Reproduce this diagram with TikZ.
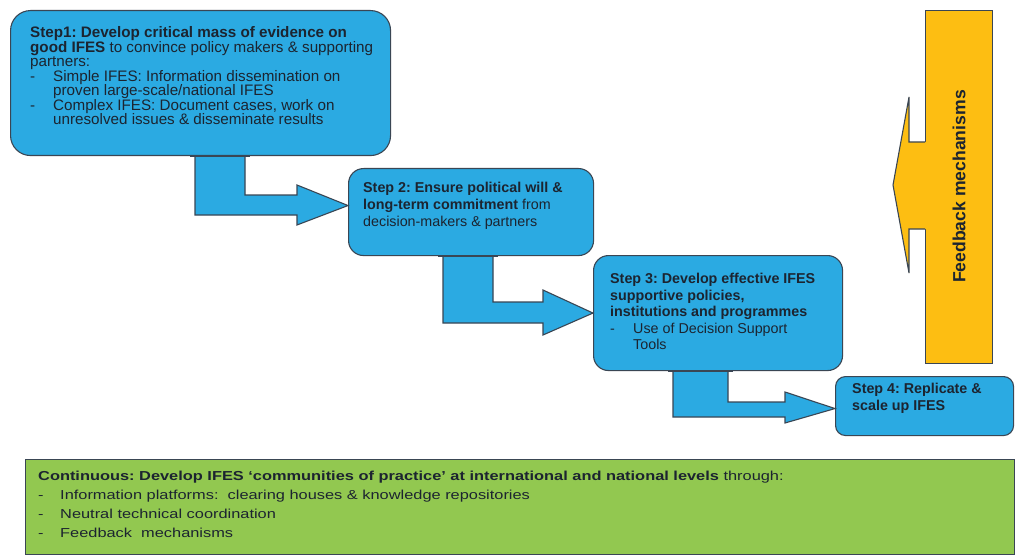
\documentclass[tikz,border=0pt]{standalone}
\usepackage{fontspec}
\setmainfont{Liberation Sans}
\newfontfamily\greenfont[FakeStretch=1.26]{Liberation Sans}
\usetikzlibrary{calc}
\definecolor{stepblue}{HTML}{2BAAE2}
\definecolor{fborange}{HTML}{FDBE12}
\definecolor{contgreen}{HTML}{92C850}
\definecolor{edge}{HTML}{3A4654}
\definecolor{ink}{HTML}{1C2430}
\frenchspacing
\begin{document}
\begin{tikzpicture}[x=1pt,y=-1pt,
  stepbox/.style={draw=edge,line width=1.1pt,fill=stepblue,anchor=north west,inner sep=0pt},
  bendarrow/.style={draw=edge,line width=1.1pt,fill=stepblue,line join=miter},
  steptext/.style={anchor=north west,inner sep=0pt,align=left,text=ink},
  fbbox/.style={draw=edge,line width=1.1pt,fill=fborange,anchor=north west,inner sep=0pt},
  contbox/.style={draw=edge,line width=1.1pt,fill=contgreen,anchor=north west,inner sep=0pt}]
\useasboundingbox[fill=white] (0,0) rectangle (1016,556);

% step boxes
\node[stepbox,rounded corners=20pt,minimum width=380pt,minimum height=145pt] (s1) at (10,10) {};
\node[stepbox,rounded corners=15pt,minimum width=245pt,minimum height=87pt] (s2) at (348,168) {};
\node[stepbox,rounded corners=15pt,minimum width=249pt,minimum height=115pt] (s3) at (593,255) {};
\node[stepbox,rounded corners=10pt,minimum width=178pt,minimum height=59pt] (s4) at (835,376) {};

% bent arrows between steps
\draw[bendarrow] ([xshift=185pt]s1.south west) -- (195,215) -- (297,215) -- (297,225)
  -- ([yshift=6.5pt]s2.west) -- (297,185) -- (297,195) -- (245,195)
  -- ([xshift=235pt]s1.south west) -- cycle;
\draw[bendarrow] ([xshift=95pt]s2.south west) -- (443,323) -- (543,323) -- (543,335)
  -- (s3.west) -- (543,290) -- (543,302) -- (493,302)
  -- ([xshift=145pt]s2.south west) -- cycle;
\draw[bendarrow] ([xshift=80pt]s3.south west) -- (673,417) -- (785,417) -- (785,423)
  -- ([yshift=-2.5pt]s4.west) -- (785,392) -- (785,402) -- (728,402)
  -- ([xshift=135pt]s3.south west) -- cycle;

% redraw step box borders on top of the arrow joints
\draw[edge,line width=1.1pt] ([xshift=180pt]s1.south west) -- ([xshift=240pt]s1.south west);
\draw[edge,line width=1.1pt] ([xshift=90pt]s2.south west) -- ([xshift=150pt]s2.south west);
\draw[edge,line width=1.1pt] ([xshift=75pt]s3.south west) -- ([xshift=140pt]s3.south west);

% step texts
\node[steptext,font=\fontsize{15.2}{14.5}\selectfont] (t1) at (30,26.7) {%
\textbf{Step1: Develop critical mass of evidence on}\\
\textbf{good IFES} to convince policy makers \& supporting\\
partners:\\
\makebox[23pt][l]{-}Simple IFES: Information dissemination on\\
\hspace*{23pt}proven large-scale/national IFES\\
\makebox[23pt][l]{-}Complex IFES: Document cases, work on\\
\hspace*{23pt}unresolved issues \& disseminate results};

\node[steptext,font=\fontsize{14.3}{17.2}\selectfont] (t2) at (363,181.5) {%
\textbf{Step 2: Ensure political will \&}\\
\textbf{long-term commitment} from\\
decision-makers \& partners};

\node[steptext,font=\fontsize{14.3}{16.5}\selectfont] (t3) at (610,273) {%
\textbf{Step 3: Develop effective IFES}\\
\textbf{supportive policies,}\\
\textbf{institutions and programmes}\\
\makebox[23pt][l]{-}Use of Decision Support\\
\hspace*{23pt}Tools};

\node[steptext,font=\fontsize{14.3}{17.3}\selectfont] (t4) at (852,383) {%
\textbf{Step 4: Replicate \&}\\
\textbf{scale up IFES}};

% feedback box with arrow
\node[fbbox,minimum width=67pt,minimum height=353pt] (fb) at (925,10) {};
\fill[fborange] (926.6,142) -- (909,142) -- (909,97) -- (893,185) -- (909,273) -- (909,229) -- (926.6,229) -- cycle;
\draw[edge,line width=1.1pt,line join=miter] (925,142) -- (909,142) -- (909,97) -- (893,185) -- (909,273) -- (909,229) -- (925,229);
\node[rotate=90,inner sep=0pt,text=ink,font=\fontsize{17.6}{17.6}\selectfont\bfseries] (fbt) at (959,186.5) {Feedback mechanisms};

% continuous box
\node[contbox,minimum width=989pt,minimum height=95pt] (cont) at (25,459) {};
\node[steptext,font=\greenfont\fontsize{13}{19}\selectfont] (ct) at (38,470.5) {%
\textbf{Continuous: Develop IFES ‘communities of practice’ at international and national levels} through:\\
\makebox[22pt][l]{-}Information platforms:\ \ clearing houses \& knowledge repositories\\
\makebox[22pt][l]{-}Neutral technical coordination\\
\makebox[22pt][l]{-}Feedback\ \ mechanisms};
\end{tikzpicture}
\end{document}
